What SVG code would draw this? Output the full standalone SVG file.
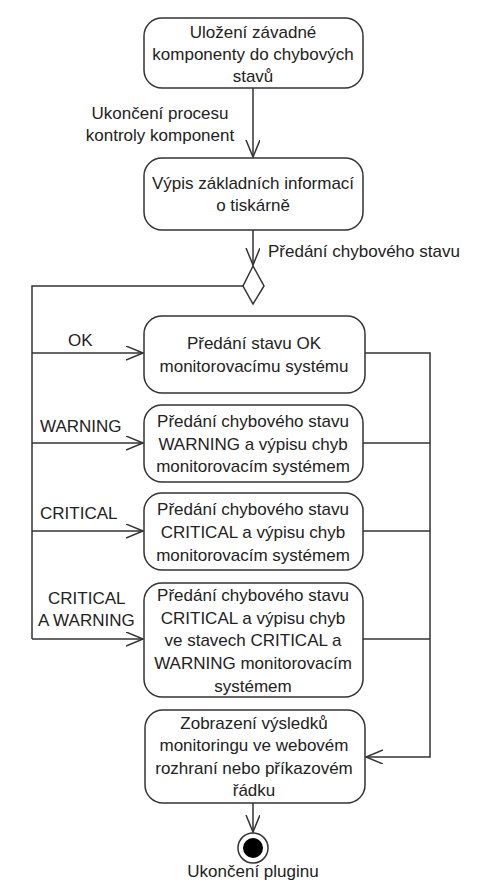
<svg xmlns="http://www.w3.org/2000/svg" width="482" height="882" viewBox="0 0 482 882">
<style>
.n{fill:#fff;stroke:#333;stroke-width:1.5}
.t{font-family:"Liberation Sans",Arial,sans-serif;font-size:17px;fill:#222;text-anchor:middle}
.l{font-family:"Liberation Sans",Arial,sans-serif;font-size:17px;fill:#222}
.c{fill:none;stroke:#333;stroke-width:1.5}
</style>
<defs>
<marker id="a" markerUnits="userSpaceOnUse" markerWidth="20" markerHeight="16" refX="17" refY="7" orient="auto">
<path d="M0,0 L17,7 L0,14" fill="none" stroke="#333" stroke-width="1.5"/>
</marker>
</defs>
<rect width="482" height="882" fill="#fff"/>
<g id="connectors">
<path class="c" d="M253,88 V157" marker-end="url(#a)"/>
<path class="c" d="M253,230 V265" marker-end="url(#a)"/>
<path class="c" d="M243,286 H32 V639"/>
<path class="c" d="M32,353 H143" marker-end="url(#a)"/>
<path class="c" d="M32,443 H143" marker-end="url(#a)"/>
<path class="c" d="M32,531 H143" marker-end="url(#a)"/>
<path class="c" d="M32,639 H143" marker-end="url(#a)"/>
<path class="c" d="M365,353 H430 V757 H366" marker-end="url(#a)"/>
<path class="c" d="M363,443 H430"/>
<path class="c" d="M363,531 H430"/>
<path class="c" d="M363,639 H430"/>
<path class="c" d="M253,803 V832" marker-end="url(#a)"/>
<text class="t" x="160" y="119">Ukončení procesu</text>
<text class="t" x="160" y="141">kontroly komponent</text>
<text class="l" x="268" y="257">Předání chybového stavu</text>
<text class="l" x="68" y="346">OK</text>
<text class="l" x="40" y="432">WARNING</text>
<text class="l" x="40" y="519">CRITICAL</text>
<text class="l" x="48" y="604">CRITICAL</text>
<text class="l" x="38" y="626">A WARNING</text>
</g>
<g id="n1">
<rect class="n" x="144" y="18" width="219" height="70" rx="18"/>
<text class="t" x="253" y="38">Uložení závadné</text>
<text class="t" x="253" y="60">komponenty do chybových</text>
<text class="t" x="253" y="82">stavů</text>
</g>
<g id="n2">
<rect class="n" x="144" y="158" width="219" height="72" rx="18"/>
<text class="t" x="253" y="189">Výpis základních informací</text>
<text class="t" x="253" y="211">o tiskárně</text>
</g>
<g id="decision">
<path class="n" d="M253,266 L264,286 L253,304 L243,286 Z"/>
</g>
<g id="n3">
<rect class="n" x="144" y="316" width="221" height="77" rx="18"/>
<text class="t" x="254" y="349">Předání stavu OK</text>
<text class="t" x="254" y="372">monitorovacímu systému</text>
</g>
<g id="n4">
<rect class="n" x="144" y="405" width="219" height="77" rx="18"/>
<text class="t" x="253" y="427">Předání chybového stavu</text>
<text class="t" x="253" y="450">WARNING a výpisu chyb</text>
<text class="t" x="253" y="472">monitorovacím systémem</text>
</g>
<g id="n5">
<rect class="n" x="144" y="493" width="219" height="77" rx="18"/>
<text class="t" x="253" y="515">Předání chybového stavu</text>
<text class="t" x="253" y="538">CRITICAL a výpisu chyb</text>
<text class="t" x="253" y="561">monitorovacím systémem</text>
</g>
<g id="n6">
<rect class="n" x="144" y="583" width="219" height="114" rx="18"/>
<text class="t" x="253" y="601">Předání chybového stavu</text>
<text class="t" x="253" y="624">CRITICAL a výpisu chyb</text>
<text class="t" x="253" y="646">ve stavech CRITICAL a</text>
<text class="t" x="253" y="669">WARNING monitorovacím</text>
<text class="t" x="253" y="692">systémem</text>
</g>
<g id="n7">
<rect class="n" x="145" y="710" width="220" height="93" rx="18"/>
<text class="t" x="254" y="729">Zobrazení výsledků</text>
<text class="t" x="254" y="751">monitoringu ve webovém</text>
<text class="t" x="254" y="774">rozhraní nebo příkazovém</text>
<text class="t" x="254" y="796">řádku</text>
</g>
<g id="final">
<circle cx="253" cy="848" r="15" fill="#fff" stroke="#333" stroke-width="1.5"/>
<circle cx="253" cy="848" r="10" fill="#000"/>
<text class="t" x="253" y="877">Ukončení pluginu</text>
</g>
</svg>
